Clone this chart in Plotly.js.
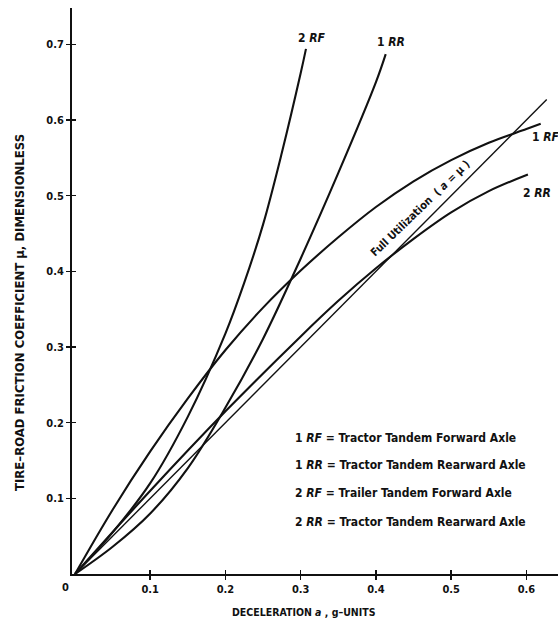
<!DOCTYPE html>
<html>
<head>
<meta charset="utf-8">
<script src="https://cdn.plot.ly/plotly-3.0.1.min.js"></script>
<style>html,body{margin:0;padding:0;background:#fff;}#chart{width:558px;height:622px;}</style>
</head>
<body>
<div id="chart"></div>
<script>
// Full utilization line (a = mu)
const fullX = [0, 0.627];
const fullY = [0, 0.627];
// 1 RF - Tractor Tandem Forward Axle
const rf1X = [0, 0.05, 0.1, 0.15, 0.2, 0.25, 0.3, 0.35, 0.4, 0.45, 0.5, 0.55, 0.6, 0.619];
const rf1Y = [0, 0.085, 0.162, 0.232, 0.296, 0.352, 0.401, 0.445, 0.485, 0.519, 0.547, 0.570, 0.588, 0.595];
// 2 RF - Trailer Tandem Forward Axle
const rf2X = [0, 0.05, 0.1, 0.15, 0.2, 0.225, 0.25, 0.275, 0.3, 0.307];
const rf2Y = [0, 0.055, 0.120, 0.208, 0.318, 0.385, 0.462, 0.557, 0.662, 0.694];
// 1 RR - Tractor Tandem Rearward Axle
const rr1X = [0, 0.05, 0.1, 0.15, 0.2, 0.25, 0.3, 0.35, 0.4, 0.413];
const rr1Y = [0, 0.036, 0.080, 0.140, 0.220, 0.311, 0.417, 0.530, 0.650, 0.687];
// 2 RR - Tractor Tandem Rearward Axle
const rr2X = [0, 0.1, 0.2, 0.3, 0.35, 0.4, 0.45, 0.5, 0.55, 0.602];
const rr2Y = [0, 0.110, 0.215, 0.314, 0.361, 0.404, 0.443, 0.478, 0.506, 0.528];

const xTicks = [0.1, 0.2, 0.3, 0.4, 0.5, 0.6];
const xTickText = ["0.1", "0.2", "0.3", "0.4", "0.5", "0.6"];
const yTicks = [0.1, 0.2, 0.3, 0.4, 0.5, 0.6, 0.7];
const yTickText = ["0.1", "0.2", "0.3", "0.4", "0.5", "0.6", "0.7"];

const legendLines = [
  "1 <i>RF</i> = Tractor Tandem Forward Axle",
  "1 <i>RR</i> = Tractor Tandem Rearward Axle",
  "2 <i>RF</i> = Trailer Tandem Forward Axle",
  "2 <i>RR</i> = Tractor Tandem Rearward Axle"
];
const xTitle = "DECELERATION <i>a</i> , g–UNITS";
const yTitle = "TIRE–ROAD FRICTION COEFFICIENT μ, DIMENSIONLESS";
const fullLabel = "Full Utilization  ( <i>a</i> = μ )";

const FONT = "Liberation Sans Narrow, DejaVu Sans Condensed, Liberation Sans, Arial, sans-serif";
const INK = "#111";

function curve(x, y, w) {
  return {x: x, y: y, type: "scatter", mode: "lines", hoverinfo: "skip",
          line: {color: INK, width: w, shape: "spline", smoothing: 1}, showlegend: false};
}

const traces = [
  curve(fullX, fullY, 1.4),
  curve(rf1X, rf1Y, 2.1),
  curve(rf2X, rf2Y, 2.1),
  curve(rr1X, rr1Y, 2.1),
  curve(rr2X, rr2Y, 2.1),
  {x: [0], y: [0], xaxis: "x2", yaxis: "y2", mode: "markers", marker: {opacity: 0}, showlegend: false, hoverinfo: "skip"}
];

const XR = [-0.004, 0.642];
const YR = [0, 0.748];

const axBase = {showgrid: false, zeroline: false, linecolor: INK, linewidth: 2,
  ticks: "outside", ticklen: 4, tickwidth: 1.5, tickcolor: INK,
  tickfont: {family: FONT, size: 11, color: INK, weight: "bold"}};

const annotations = [];
legendLines.forEach((t, i) => {
  annotations.push({x: 0.290, y: [0.180, 0.144, 0.107, 0.069][i], xref: "x", yref: "y",
    text: "<b>" + t + "</b>", showarrow: false, xanchor: "left", yanchor: "middle",
    font: {family: FONT, size: 12, color: INK}});
});
const curveLabels = [
  {t: "2 <i>RF</i>", x: 0.315, y: 0.709, xa: "center"},
  {t: "1 <i>RR</i>", x: 0.420, y: 0.703, xa: "center"},
  {t: "1 <i>RF</i>", x: 0.605, y: 0.577, xa: "left"},
  {t: "2 <i>RR</i>", x: 0.593, y: 0.503, xa: "left"}
];
curveLabels.forEach(c => annotations.push({x: c.x, y: c.y, xref: "x", yref: "y",
  text: "<b>" + c.t + "</b>", showarrow: false, xanchor: c.xa, yanchor: "middle",
  font: {family: FONT, size: 12, color: INK}}));
annotations.push({x: 0.459, y: 0.483, xref: "x", yref: "y", text: "<b>" + fullLabel + "</b>",
  showarrow: false, textangle: -44, xanchor: "center", yanchor: "middle",
  font: {family: FONT, size: 11, color: INK}});

// pixel-positioned annotations
const W = 558, H = 622, ML = 72, MR = 0, MT = 8, MB = 48;
const PW = W - ML - MR, PH = H - MT - MB;
function px(a) {
  a.xref = "paper"; a.yref = "paper"; a.xanchor = "center"; a.yanchor = "middle"; a.showarrow = false;
  a.x = (a.x - ML) / PW; a.y = (H - MB - a.y) / PH;
  return a;
}
annotations.push(px({x: 65, y: 587, text: "<b>0</b>", font: {family: FONT, size: 11, color: INK}}));
annotations.push(px({x: 304, y: 612, text: "<b>" + xTitle + "</b>", font: {family: FONT, size: 10.5, color: INK}}));
annotations.push(px({x: 19, y: 313, text: "<b>" + yTitle + "</b>", textangle: -90, font: {family: FONT, size: 13, color: INK}}));

const layout = {
  width: W, height: H,
  margin: {l: ML, r: MR, t: MT, b: MB, pad: 0},
  paper_bgcolor: "#fff", plot_bgcolor: "#fff",
  showlegend: false,
  xaxis: Object.assign({}, axBase, {range: XR, tickvals: xTicks, ticktext: xTickText, showline: true}),
  yaxis: Object.assign({}, axBase, {range: YR, tickvals: yTicks, ticktext: yTickText, showline: true}),
  xaxis2: {overlaying: "x", matches: "x", range: XR, tickvals: xTicks, ticks: "inside", ticklen: 4, tickwidth: 1.5,
    tickcolor: INK, showticklabels: false, showgrid: false, zeroline: false, showline: false, side: "bottom"},
  yaxis2: {overlaying: "y", matches: "y", range: YR, tickvals: yTicks, ticks: "inside", ticklen: 4, tickwidth: 1.5,
    tickcolor: INK, showticklabels: false, showgrid: false, zeroline: false, showline: false, side: "left"},
  annotations: annotations
};

Plotly.newPlot("chart", traces, layout, {staticPlot: true, displayModeBar: false});
</script>
</body>
</html>
